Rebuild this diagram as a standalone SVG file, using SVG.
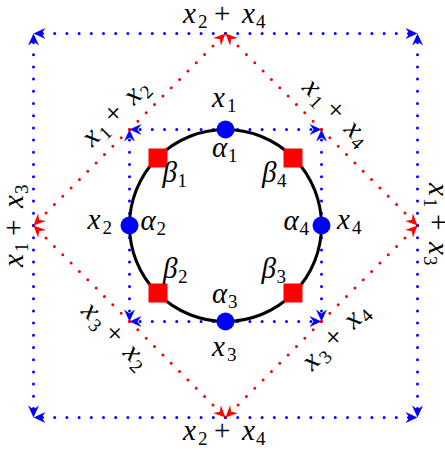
<svg xmlns="http://www.w3.org/2000/svg" width="445" height="450" viewBox="0 0 445 450">
<style>
text{font-family:"Liberation Serif","Times New Roman",serif;font-size:29px;fill:#000}
.i{font-style:italic}
.s{font-size:19px;font-style:normal}
.b{stroke:#0000ff;stroke-width:3;stroke-linecap:round;stroke-dasharray:0 12.2;fill:none;marker-end:url(#ab)}
.r{stroke:#ff0000;stroke-width:3;stroke-linecap:round;stroke-dasharray:0 11.8;fill:none;marker-end:url(#ar)}
.dot{fill:#0000ff}
.sq{fill:#ff0000}
</style>
<defs>
<marker id="ab" markerUnits="userSpaceOnUse" viewBox="-13 -7 14 14" markerWidth="14" markerHeight="14" refX="0" refY="0" orient="auto" overflow="visible">
<path d="M0,0 L-12,-5.5 L-8,0 L-12,5.5 Z" fill="#0000ff"/>
</marker>
<marker id="ar" markerUnits="userSpaceOnUse" viewBox="-13 -7 14 14" markerWidth="14" markerHeight="14" refX="0" refY="0" orient="auto" overflow="visible">
<path d="M0,0 L-12,-5.5 L-8,0 L-12,5.5 Z" fill="#ff0000"/>
</marker>
</defs>
<rect width="445" height="450" fill="#fff"/>
<g id="connectors">
<path class="b" d="M225.5,33.5 L33.5,33.5"/>
<path class="b" d="M225.5,33.5 L417.5,33.5"/>
<path class="b" d="M33.5,225.5 L33.5,33.5"/>
<path class="b" d="M33.5,225.5 L33.5,417.5"/>
<path class="b" d="M417.5,225.5 L417.5,33.5"/>
<path class="b" d="M417.5,225.5 L417.5,417.5"/>
<path class="b" d="M225.5,417.5 L33.5,417.5"/>
<path class="b" d="M225.5,417.5 L417.5,417.5"/>
<path class="r" d="M129.5,129.5 L225.5,33.5"/>
<path class="r" d="M129.5,129.5 L33.5,225.5"/>
<path class="r" d="M321.5,129.5 L225.5,33.5"/>
<path class="r" d="M321.5,129.5 L417.5,225.5"/>
<path class="r" d="M129.5,321.5 L33.5,225.5"/>
<path class="r" d="M129.5,321.5 L225.5,417.5"/>
<path class="r" d="M321.5,321.5 L417.5,225.5"/>
<path class="r" d="M321.5,321.5 L225.5,417.5"/>
<path class="b" d="M225.5,129.5 L129.5,129.5"/>
<path class="b" d="M225.5,129.5 L321.5,129.5"/>
<path class="b" d="M129.5,225.5 L129.5,129.5"/>
<path class="b" d="M129.5,225.5 L129.5,321.5"/>
<path class="b" d="M321.5,225.5 L321.5,129.5"/>
<path class="b" d="M321.5,225.5 L321.5,321.5"/>
<path class="b" d="M225.5,321.5 L129.5,321.5"/>
<path class="b" d="M225.5,321.5 L321.5,321.5"/>
</g>
<g id="ring"><circle cx="225.5" cy="225.5" r="96" fill="none" stroke="#000" stroke-width="3"/></g>
<g id="n-x1"><circle class="dot" cx="225.5" cy="129.5" r="9"/></g>
<g id="n-x2"><circle class="dot" cx="129.5" cy="225.5" r="9"/></g>
<g id="n-x3"><circle class="dot" cx="225.5" cy="321.5" r="9"/></g>
<g id="n-x4"><circle class="dot" cx="321.5" cy="225.5" r="9"/></g>
<g id="n-b1"><rect class="sq" x="148.5" y="148.5" width="19" height="19"/></g>
<g id="n-b4"><rect class="sq" x="283.5" y="148.5" width="19" height="19"/></g>
<g id="n-b2"><rect class="sq" x="148.5" y="283.5" width="19" height="19"/></g>
<g id="n-b3"><rect class="sq" x="283.5" y="283.5" width="19" height="19"/></g>
<g id="labels">
<text transform="translate(225,23)"><tspan class="i" x="-42" y="0">x</tspan><tspan class="s" x="-27" y="5">2</tspan><tspan x="-11" y="0">+</tspan><tspan class="i" x="17" y="0">x</tspan><tspan class="s" x="31" y="5">4</tspan></text>
<text transform="translate(225,440)"><tspan class="i" x="-42" y="0">x</tspan><tspan class="s" x="-27" y="5">2</tspan><tspan x="-11" y="0">+</tspan><tspan class="i" x="17" y="0">x</tspan><tspan class="s" x="31" y="5">4</tspan></text>
<text transform="translate(23,225) rotate(-90)"><tspan class="i" x="-42" y="0">x</tspan><tspan class="s" x="-27" y="5">1</tspan><tspan x="-11" y="0">+</tspan><tspan class="i" x="17" y="0">x</tspan><tspan class="s" x="31" y="5">3</tspan></text>
<text transform="translate(429,225) rotate(90)"><tspan class="i" x="-42" y="0">x</tspan><tspan class="s" x="-27" y="5">1</tspan><tspan x="-11" y="0">+</tspan><tspan class="i" x="17" y="0">x</tspan><tspan class="s" x="31" y="5">3</tspan></text>
<text transform="translate(122,118) rotate(-45)"><tspan class="i" x="-42" y="0">x</tspan><tspan class="s" x="-27" y="5">1</tspan><tspan x="-11" y="0">+</tspan><tspan class="i" x="17" y="0">x</tspan><tspan class="s" x="31" y="5">2</tspan></text>
<text transform="translate(331,118.5) rotate(45)"><tspan class="i" x="-42" y="0">x</tspan><tspan class="s" x="-27" y="5">1</tspan><tspan x="-11" y="0">+</tspan><tspan class="i" x="17" y="0">x</tspan><tspan class="s" x="31" y="5">4</tspan></text>
<text transform="translate(110,342) rotate(45)"><tspan class="i" x="-42" y="0">x</tspan><tspan class="s" x="-27" y="5">3</tspan><tspan x="-11" y="0">+</tspan><tspan class="i" x="17" y="0">x</tspan><tspan class="s" x="31" y="5">2</tspan></text>
<text transform="translate(342,342) rotate(-45)"><tspan class="i" x="-42" y="0">x</tspan><tspan class="s" x="-27" y="5">3</tspan><tspan x="-11" y="0">+</tspan><tspan class="i" x="17" y="0">x</tspan><tspan class="s" x="31" y="5">4</tspan></text>
<text transform="translate(225,107)"><tspan class="i" x="-13" y="0">x</tspan><tspan class="s" x="2" y="5">1</tspan></text>
<text transform="translate(225,356)"><tspan class="i" x="-13" y="0">x</tspan><tspan class="s" x="2" y="5">3</tspan></text>
<text transform="translate(100.5,229)"><tspan class="i" x="-13" y="0">x</tspan><tspan class="s" x="2" y="5">2</tspan></text>
<text transform="translate(350,229)"><tspan class="i" x="-13" y="0">x</tspan><tspan class="s" x="2" y="5">4</tspan></text>
<text transform="translate(225,157)"><tspan class="i" x="-13" y="0">α</tspan><tspan class="s" x="3" y="5">1</tspan></text>
<text transform="translate(225,303)"><tspan class="i" x="-13" y="0">α</tspan><tspan class="s" x="3" y="5">3</tspan></text>
<text transform="translate(153.5,230)"><tspan class="i" x="-13" y="0">α</tspan><tspan class="s" x="3" y="5">2</tspan></text>
<text transform="translate(296.5,230)"><tspan class="i" x="-13" y="0">α</tspan><tspan class="s" x="3" y="5">4</tspan></text>
<text transform="translate(175.5,182)"><tspan class="i" x="-13" y="0">β</tspan><tspan class="s" x="2" y="5">1</tspan></text>
<text transform="translate(275,182)"><tspan class="i" x="-13" y="0">β</tspan><tspan class="s" x="2" y="5">4</tspan></text>
<text transform="translate(176,278)"><tspan class="i" x="-13" y="0">β</tspan><tspan class="s" x="2" y="5">2</tspan></text>
<text transform="translate(274.5,278)"><tspan class="i" x="-13" y="0">β</tspan><tspan class="s" x="2" y="5">3</tspan></text>
</g>
</svg>
